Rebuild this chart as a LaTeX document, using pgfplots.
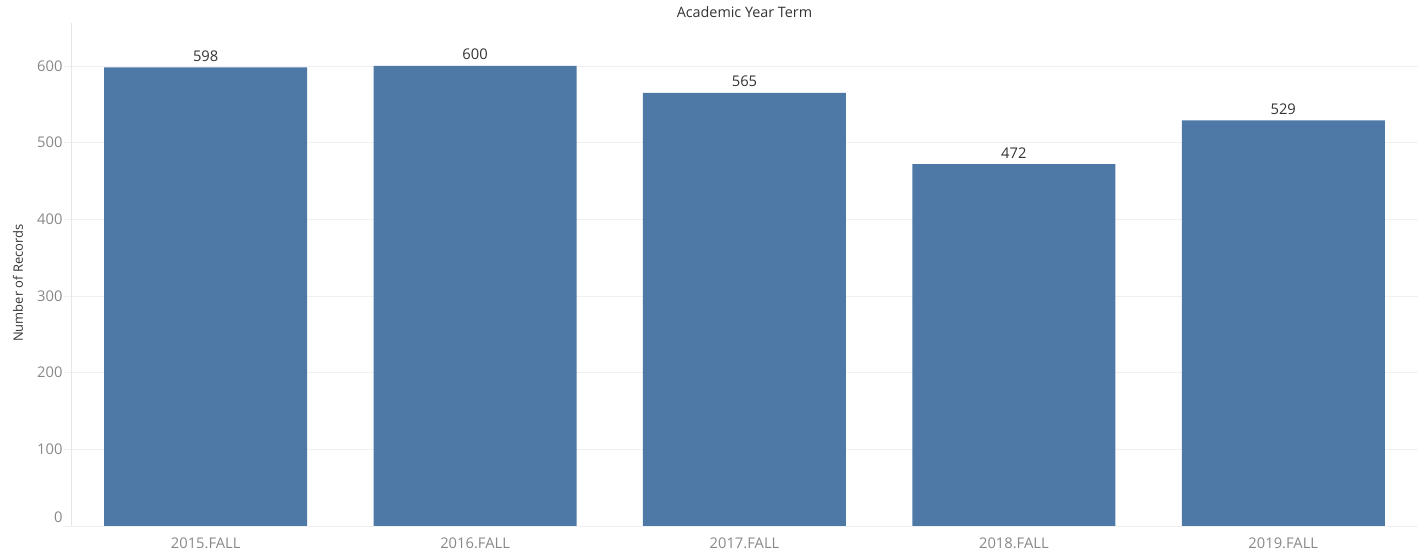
\documentclass[border=0pt]{standalone}
\usepackage{pgfplots}
\pgfplotsset{compat=1.18}
\usepackage{fontspec}
\setmainfont{Open Sans}
\definecolor{barblue}{HTML}{4E79A7}
\definecolor{gridc}{HTML}{F0F0F0}
\definecolor{axisc}{HTML}{E6E6E6}
\definecolor{tickc}{HTML}{888888}
\definecolor{labc}{HTML}{333333}
\pgfplotstableread{
x val
0 598
1 600
2 565
3 472
4 529
}\datatable
\begin{document}
\begin{tikzpicture}
\path[use as bounding box] (-71bp,-26bp) rectangle (1353bp,526bp);
\begin{axis}[
  at={(0,0)}, anchor=south west,
  scale only axis, width=1347bp, height=503bp,
  xmin=-0.5, xmax=4.5, ymin=0, ymax=656,
  /pgf/number format/assume math mode=true,
  axis x line*=bottom, axis y line*=left,
  axis line style={draw=axisc, line width=0.8bp},
  xtick={0,1,2,3,4},
  xticklabels={2015.FALL,2016.FALL,2017.FALL,2018.FALL,2019.FALL},
  xtick style={draw=none},
  extra x ticks={-0.5,0.5,1.5,2.5,3.5,4.5},
  extra x tick labels={},
  extra x tick style={grid=none, tick style={draw=axisc, line width=0.8bp}},
  ytick={100,200,...,600},
  extra y ticks={0},
  extra y tick style={yticklabel style={yshift=9bp}},
  ymajorgrids, grid style={draw=gridc, line width=0.8bp},
  ytick style={draw=gridc, line width=0.8bp},
  tick align=outside, major tick length=7bp,
  ticklabel style={font=\fontsize{14.8}{17}\selectfont, text=tickc},
  xticklabel style={anchor=base, yshift=-15bp},
  yticklabel style={anchor=east, xshift=2bp},
  title={Academic Year Term},
  title style={at={(0.5,1)}, anchor=center, yshift=5bp, font=\fontsize{14.4}{16}\selectfont, text=labc},
  ylabel={Number of Records},
  every axis y label/.style={at={(axis description cs:-0.03935,0.483)}, rotate=90, anchor=center, font=\fontsize{13}{15}\selectfont, text=labc},
  nodes near coords,
  nodes near coords style={font=\fontsize{14.8}{17}\selectfont, text=labc, anchor=base, yshift=6bp, inner sep=0pt},
]
\addplot[ybar, bar width=0.7535, fill=barblue, draw=none] table[x=x, y=val] {\datatable};
\end{axis}
\end{tikzpicture}
\end{document}
